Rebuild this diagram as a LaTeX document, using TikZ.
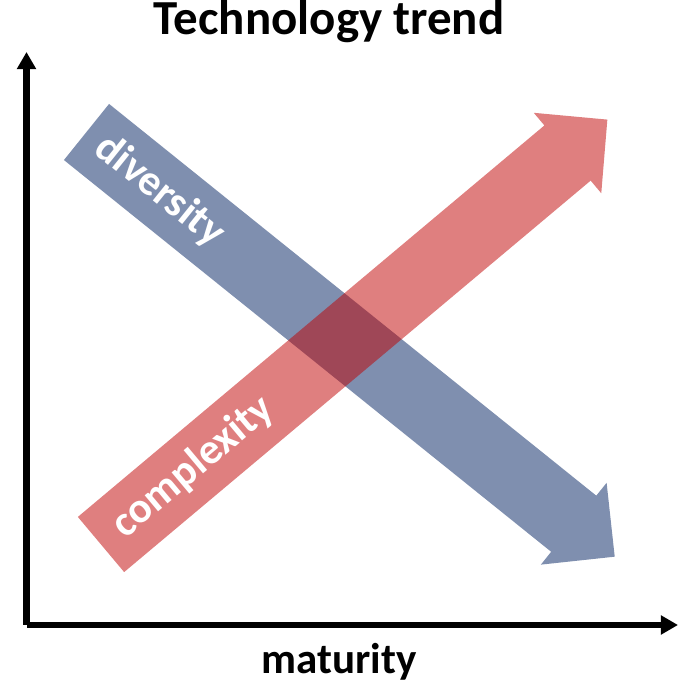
\documentclass[tikz,border=0pt]{standalone}
\usepackage{fontspec}
\setmainfont{Carlito}
\usepackage{xcolor}
\usepackage{tikz}
\usetikzlibrary{arrows.meta}
\definecolor{cDiv}{RGB}{0,32,96}
\definecolor{cCplx}{RGB}{192,0,0}

\begin{document}
\begin{tikzpicture}[every node/.style={font=\fontsize{30.6}{36}\selectfont\bfseries},
    axis/.style={line width=4.3pt,-{Triangle[length=0.43cm,width=0.46cm]}},
    trendlabel/.style={text=white,inner sep=0pt}]
  \useasboundingbox (0,0) rectangle (16.975,17.1);
  % axes
  \coordinate (orig) at (0.6625,1.475);
  \coordinate (ytop) at (0.6625,15.8);
  \coordinate (xend) at (16.95,1.475);
  \draw[axis] (orig) -- (ytop);
  \draw[axis] (orig) -- (xend);
  \node[anchor=base,font=\fontsize{34.8}{40}\selectfont\bfseries] (title) at (8.225,16.225) {Technology trend};
  \node[anchor=base] (xlab) at (8.475,0.275) {maturity};
  % diversity goes down
  \begin{scope}[shift={(2.1625,13.8)},rotate=-38.8]
    \fill[cDiv,fill opacity=0.5] (0,-0.9) -- (15.63,-0.9) -- (15.63,-1.3125)
      -- (16.945,0) -- (15.63,1.3125) -- (15.63,0.9) -- (0,0.9) -- cycle;
    \node[trendlabel,rotate=-38.8] (div) at (2.35,0) {diversity};
  \end{scope}
  % complexity goes up
  \begin{scope}[shift={(2.525,3.4875)},rotate=40]
    \fill[cCplx,fill opacity=0.5] (0,-0.9) -- (15.225,-0.9) -- (15.225,-1.3125)
      -- (16.525,0) -- (15.225,1.3125) -- (15.225,0.9) -- (0,0.9) -- cycle;
    \node[trendlabel,rotate=40] (cplx) at (3.0,0) {complexity};
  \end{scope}
\end{tikzpicture}
\end{document}
